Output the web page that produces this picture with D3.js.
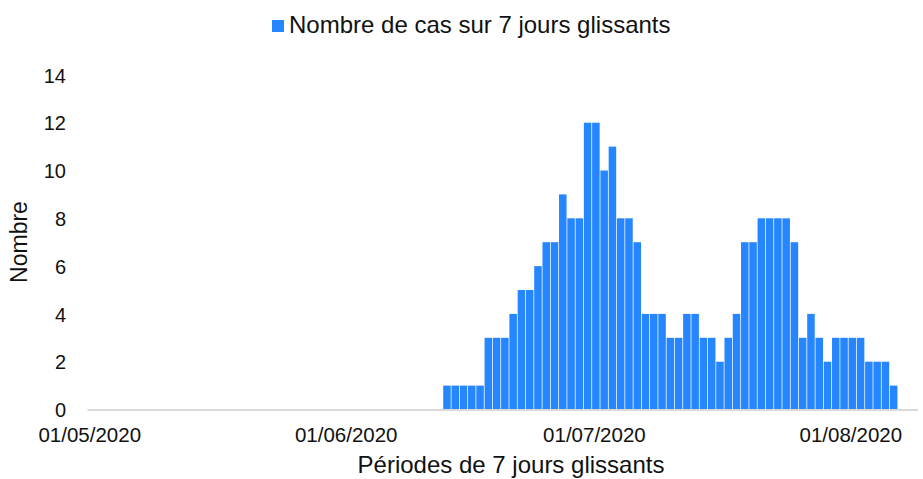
<!DOCTYPE html>
<html>
<head>
<meta charset="utf-8">
<script src="https://cdn.jsdelivr.net/npm/d3@7"></script>
<style>
  html, body { margin: 0; padding: 0; background: #fff; }
  svg { display: block; font-family: "Liberation Sans", Arial, sans-serif; }
</style>
</head>
<body>
<svg id="chart" width="923" height="479"></svg>
<script>
// ---- data ----
const axisStart = "2020-05-01";
const axisEnd = "2020-08-09";          // exclusive end of the day axis
const seriesStart = "2020-06-13";
const seriesName = "Nombre de cas sur 7 jours glissants";
const cases = [1,1,1,1,1,3,3,3,4,5,5,6,7,7,9,8,8,12,12,10,11,8,8,7,4,4,4,
               3,3,4,4,3,3,2,3,4,7,7,8,8,8,8,7,3,4,3,2,3,3,3,3,2,2,2,1];
const xTickLabels = ["01/05/2020","01/06/2020","01/07/2020","01/08/2020"];
const yTicks = [0,2,4,6,8,10,12,14];
const xTitle = "Périodes de 7 jours glissants";
const yTitle = "Nombre";

// ---- build ----
const parse = d3.utcParse("%Y-%m-%d");
const fmt = d3.utcFormat("%d/%m/%Y");
const key = d3.utcFormat("%Y-%m-%d");
const days = d3.utcDay.range(parse(axisStart), parse(axisEnd));
const s0 = parse(seriesStart);
const data = cases.map((v, i) => ({ date: d3.utcDay.offset(s0, i), value: v }));

const svg = d3.select("#chart");
const blue = "#2686ff";

const x = d3.scaleBand()
  .domain(days.map(key))
  .range([87.5, 914])
  .paddingInner(0.09)
  .paddingOuter(0);

const y = d3.scaleLinear().domain([0, 14]).range([409.5, 74.9]);

// bars
svg.append("g").selectAll("rect")
  .data(data)
  .join("rect")
  .attr("x", d => x(key(d.date)))
  .attr("width", x.bandwidth())
  .attr("y", d => y(d.value))
  .attr("height", d => y(0) - y(d.value))
  .attr("fill", blue);

// x axis baseline
svg.append("line")
  .attr("x1", x.range()[0]).attr("x2", 918)
  .attr("y1", y(0) + 0.5).attr("y2", y(0) + 0.5)
  .attr("stroke", "#d9d9d9").attr("stroke-width", 2);

// x tick labels
const tickKeys = xTickLabels.map(l => key(d3.utcParse("%d/%m/%Y")(l)));
const xAxis = d3.axisBottom(x)
  .tickValues(tickKeys)
  .tickSize(0)
  .tickFormat(k => fmt(parse(k)));
const gx = svg.append("g").attr("transform", `translate(-1.5,${y(0)})`).call(xAxis);
gx.select(".domain").remove();
gx.selectAll("text")
  .attr("dy", null).attr("y", 32)
  .attr("fill", "#111")
  .style("font-size", "20.5px")
  .style("font-family", "'Liberation Sans', Arial, sans-serif");

// y tick labels
const yAxis = d3.axisLeft(y).tickValues(yTicks).tickSize(0).tickPadding(0);
const gy = svg.append("g").attr("transform", "translate(66,0)").call(yAxis);
gy.select(".domain").remove();
gy.selectAll("text")
  .attr("fill", "#111")
  .attr("dy", "0.36em")
  .style("font-size", "20px")
  .style("font-family", "'Liberation Sans', Arial, sans-serif");

// axis titles
svg.append("text")
  .attr("x", 511).attr("y", 473)
  .attr("text-anchor", "middle")
  .attr("fill", "#111")
  .style("font-size", "24px")
  .text(xTitle);

svg.append("text")
  .attr("transform", "translate(27,242) rotate(-90)")
  .attr("text-anchor", "middle")
  .attr("fill", "#111")
  .style("font-size", "23px")
  .text(yTitle);

// legend
const lg = svg.append("g").attr("transform", "translate(272,20)");
lg.append("rect").attr("width", 12).attr("height", 12).attr("fill", blue);
lg.append("text")
  .attr("x", 17).attr("y", 13)
  .attr("fill", "#111")
  .style("font-size", "24px")
  .text(seriesName);
</script>
</body>
</html>
